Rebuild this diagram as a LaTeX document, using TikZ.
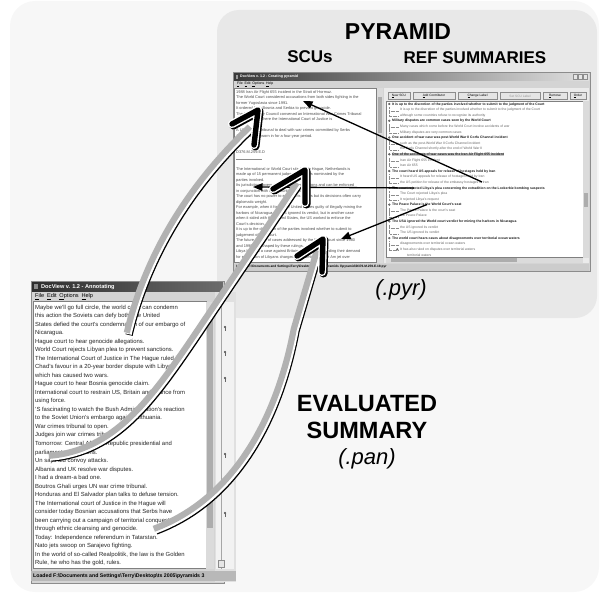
\documentclass[tikz,border=0pt]{standalone}
\usepackage{fontspec}
\setmainfont{Liberation Sans}
\usetikzlibrary{arrows.meta}
\tikzset{
  heading/.style={font=\fontsize{23}{27}\selectfont\bfseries, inner sep=0},
  subheading/.style={font=\fontsize{17}{20}\selectfont\bfseries, inner sep=0},
  ext/.style={font=\fontsize{22}{26}\selectfont\itshape, inner sep=0},
  winframe/.style={fill=black!17, draw=black!45, line width=0.4pt},
  pane/.style={fill=white, draw=black!50, line width=0.3pt},
  track/.style={fill=black!14},
  thumb/.style={fill=black!32},
  titletext/.style={anchor=west, inner sep=0, text=white},
  menutext/.style={anchor=west, inner sep=0},
  doctext/.style={anchor=base west, inner sep=0, font=\fontsize{5.9}{7}\selectfont, text=black!85},
  scutext/.style={anchor=base west, inner sep=0, font=\fontsize{3.9}{4.5}\selectfont, text=black!70},
  scu/.style={anchor=base west, inner sep=0, xshift=392pt, font=\fontsize{3.4}{4}\selectfont\bfseries, text=black!90},
  scuhl/.style={scu, fill=black!22},
  ctb/.style={anchor=base west, inner sep=0, xshift=400pt, font=\fontsize{3.4}{4}\selectfont, text=black!60},
  ctbb/.style={ctb, xshift=7pt},
  btnbox/.style={fill=black!10, draw=black!45, line width=0.3pt},
  btntext/.style={inner sep=0, font=\fontsize{3.2}{4}\selectfont},
  pointer/.style={line width=1.3pt, -{Triangle[length=9.5pt,width=7.5pt]}},
  bandshadow/.style={draw=black, line width=7.4pt, transform canvas={shift={(1pt,-1pt)}}},
  bandlight/.style={draw=white, line width=7.4pt},
  bandcore/.style={draw=black!30, line width=6.2pt, transform canvas={shift={(-1.2pt,1.2pt)}}},
  headshadow/.style={draw=black, line width=8.2pt, line cap=round, line join=round, transform canvas={shift={(1.4pt,-1.4pt)}}},
  headlight/.style={draw=white, line width=8.2pt, line cap=round, line join=round},
  headcore/.style={draw=black, line width=5.4pt, line cap=round, line join=round},
  pin/.style={fill=black!55, draw=black!70, line width=0.2pt}
}
\begin{document}
\begin{tikzpicture}[x=1pt,y=-1pt]
\useasboundingbox (0,0) rectangle (601,594);
\fill[black!3, rounded corners=25pt] (10,1) rectangle (599,592);
\fill[black!9, rounded corners=22pt] (217,10) rectangle (597,318);

\node[heading] (pyr) at (398,32) {PYRAMID};
\node[subheading] (scus) at (310,57) {SCUs};
\node[subheading] (refs) at (475,58) {REF SUMMARIES};
\node[ext] (pyrx) at (401,290) {(.pyr)};
\node[heading, align=center, font=\fontsize{23.5}{27.5}\selectfont\bfseries] (eval) at (367,432)
  {EVALUATED\\SUMMARY\\[-2pt]{\fontsize{22}{26}\selectfont\mdseries\itshape (.pan)}};

\draw[winframe] (233,72.5) rectangle (590,271);
\shade[left color=black!78, right color=black!12] (234,73.3) rectangle (589,80.3);
\fill[black!40] (235.5,74.8) rectangle (238,78.8);
\node[titletext, font=\fontsize{3.6}{4}\selectfont\bfseries] (ptitle) at (240,76.8) {DocView v. 1.2 - Creating pyramid};
\foreach \a [count=\i] in {573,578,583}
  \draw[btnbox] (\a,74.6) rectangle ({\a+4.5},79);
\node[menutext, font=\fontsize{3.5}{4}\selectfont] (pmenu) at (237,84.3)
  {\underline{F}ile\enspace \underline{E}dit\enspace \underline{O}ptions\enspace \underline{H}elp};
\draw[pane] (234,88) rectangle (376.5,262.5);
\fill[track] (377,88) rectangle (383,262.5);
\fill[thumb] (377.6,97) rectangle (382.4,133);
\fill[black!8] (384,88) rectangle (589,263);
\foreach \a/\b/\t [count=\i] in {388/410/{\underline{N}ew SCU}, 413/455/{\underline{A}dd Contributor},
  458/497/{\underline{C}hange Label}, 500/540/{\textcolor{black!40}{Set SCU Label}},
  543/567/{\underline{R}emove}, 570/586/{\underline{O}rder}}
  {\draw[btnbox] (\a,92.5) rectangle (\b,99.5);
   \node[btntext] (btn\i) at ({(\a+\b)/2},96) {\t};}
\draw[pane] (386,101) rectangle (583,257.5);
\fill[track] (583,101) rectangle (588.5,257.5);
\fill[thumb] (583.6,193) rectangle (588,207);
\fill[track] (386,257.5) rectangle (583,262.5);
\fill[thumb] (391,258.2) rectangle (517,262);
\fill[black!20] (234,263.5) rectangle (589,270.5);
\node[menutext, font=\fontsize{3.2}{4}\selectfont\bfseries] (pstat) at (236,267)
  {Loaded F:\textbackslash Documents and Settings\textbackslash Terry\textbackslash Desktop\textbackslash ts 2005\textbackslash pyramids 3\textbackslash pyramid\textbackslash D376.M.259.E.19.pyr};

\foreach \t [count=\i] in {
  {1988 Iran Air Flight 655 incident in the Strait of Hormuz.},
  {The World Court considered accusations from both sides fighting in the},
  {former Yugoslavia since 1991.},
  {It ordered both Bosnia and Serbia to prevent genocide.},
  {The UN Security Council convened an International War Crimes Tribunal},
  {in the Hague, where the International Court of Justice is},
  {},
  {A UN-created tribunal to deal with war crimes committed by Serbs},
  {Judges were sworn in for a four-year period.},
  {}, {},
  {D376.M.259.E.D},
  {}, {},
  {The International or World Court sits in The Hague, Netherlands is},
  {made up of 15 permanent judges and others nominated by the},
  {parties involved.},
  {Its jurisdiction covers disputes between nations and can be enforced},
  {in conjunction with the Security Council.},
  {The court has no power to enforce its orders but its decisions often carry},
  {diplomatic weight.},
  {For example, when it found the United States guilty of illegally mining the},
  {harbors of Nicaragua, the US ignored its verdict, but in another case},
  {when it sided with the United States, the US worked to enforce the},
  {Court's decision.},
  {It is up to the discretion of the parties involved whether to submit to},
  {judgement of the Court.},
  {The future course of cases addressed by the World Court since 1980},
  {and 1990 was shaped by these rulings.},
  {Libya brought a case against Britain and the US regarding their demand},
  {for extradition of Libyans charged with bombing a Pan Am jet over}}
  {\node[scutext] (p\i) at (236,{87.6+\i*5.5}) {\t};}
\draw[black!45, line width=0.4pt] (236,159) -- (262,159);

\foreach \k/\t [count=\i] in {
  scu/{It is up to the discretion of the parties involved whether to submit to the judgment of the Court},
  ctb/{It is up to the discretion of the parties involved whether to submit to the judgment of the Court},
  ctb/{although some countries refuse to recognize its authority},
  scu/{Military disputes are common cases seen by the World Court},
  ctb/{Many cases which come before the World Court involve accidents of war},
  ctb/{Military disputes are very common cases},
  scu/{One accident of war case was post-World War II Corfu Channel incident},
  ctb/{such as the post-World War II Corfu Channel incident},
  ctb/{the Corfu Channel shortly after the end of World War II},
  scuhl/{One of the accidents of war cases was the Iran Air Flight 655 incident},
  ctb/{Iran Air Flight 655 incident},
  ctb/{Iran Air 655},
  scu/{The court heard US appeals for release of hostages held by Iran},
  ctb/{It heard US appeals for release of hostages held by Iran},
  ctb/{the US petition for release of the embassy hostages in Iran},
  scu/{The court rejected Libya's plea concerning the extradition on the Lockerbie bombing suspects},
  ctb/{The Court rejected Libya's plea},
  ctb/{It rejected Libya's request},
  scu/{The Peace Palace is the World Court's seat},
  ctb/{The Peace Palace is the court's seat},
  ctb/{the Peace Palace},
  scu/{The USA ignored the World court verdict for mining the harbors in Nicaragua},
  ctb/{the US ignored its verdict},
  ctb/{The US ignored its verdict},
  scu/{The world court hears cases about disagreements over territorial ocean waters},
  ctb/{disagreements over territorial ocean waters},
  ctb/{It has also ruled on disputes over territorial waters},
  ctbb/{territorial waters}}
  {\node[\k] (r\i) at (0,{99.6+\i*5.59}) {\t};}
\foreach \i in {1,4,7,10,13,16,19,22,25}
  {\draw[black!45, line width=0.25pt, densely dotted] (389.3,{101.6+\i*5.59}) -- (389.3,{99.6+(\i+2)*5.59}) -- (398.5,{99.6+(\i+2)*5.59});
   \draw[black!45, line width=0.25pt, densely dotted] (389.3,{99.6+(\i+1)*5.59}) -- (398.5,{99.6+(\i+1)*5.59});
   \draw[pin] (389.3,{98.4+\i*5.59}) circle (1pt);}
\draw[pin] (397.3,{98.4+27*5.59}) circle (0.9pt);

\draw[winframe] (31,281) rectangle (224,583);
\fill[black!12] (215,292) rectangle (236,582);
\shade[left color=black!82, right color=black!58] (32,282) rectangle (223,291);
\fill[black!45] (34,284) rectangle (38,289);
\node[titletext, font=\fontsize{5.6}{6}\selectfont\bfseries] (dtitle) at (41,286.7) {DocView v. 1.2 - Annotating};
\node[menutext, font=\fontsize{5.6}{6}\selectfont] (dmenu) at (35,296.5)
  {\underline{F}ile\enspace \underline{E}dit\enspace \underline{O}ptions\enspace \underline{H}elp};
\draw[pane] (33,301.5) rectangle (206,568.5);
\fill[track] (206,301.5) rectangle (214,568.5);
\fill[thumb] (206.6,311) rectangle (213.4,528);
\fill[black!5] (216,301.5) rectangle (234,568.5);
\draw[black!35, line width=0.3pt] (221,301.5) -- (221,568.5);
\foreach \y [count=\i] in {327,352,378,454,513}
  {\draw[pin] (225,\y) circle (1.1pt); \draw[black!60, line width=0.3pt] (225,{\y+1}) -- (225,{\y+3.5});}
\draw[btnbox] (218,560) rectangle (224,567);
\begin{scope}
  \clip (31,571) rectangle (236,581);
  \fill[black!28] (31,571) rectangle (236,581);
  \node[menutext, font=\fontsize{5.2}{6}\selectfont\bfseries] (dstat) at (33,576)
    {Loaded F:\textbackslash Documents and Settings\textbackslash Terry\textbackslash Desktop\textbackslash ts 2005\textbackslash pyramids 3};
\end{scope}

\foreach \t [count=\i] in {
  {Maybe we'll go full circle, the world court can condemn},
  {this action the Soviets can defy both, the United},
  {States defied the court's condemnation of our embargo of},
  {Nicaragua.},
  {Hague court to hear genocide allegations.},
  {World Court rejects Libyan plea to prevent sanctions.},
  {The International Court of Justice in The Hague ruled in},
  {Chad's favour in a 20-year border dispute with Libya},
  {which has caused two wars.},
  {Hague court to hear Bosnia genocide claim.},
  {International court to restrain US, Britain and France from},
  {using force.},
  {'S fascinating to watch the Bush Administration's reaction},
  {to the Soviet Union's embargo against Lithuania.},
  {War crimes tribunal to open.},
  {Judges join war crimes tribunal.},
  {Tomorrow: Central African Republic presidential and},
  {parliamentary elections.},
  {Un says aid convoy attacks.},
  {Albania and UK resolve war disputes.},
  {I had a dream-a bad one.},
  {Boutros Ghali urges UN war crime tribunal.},
  {Honduras and El Salvador plan talks to defuse tension.},
  {The International court of Justice in the Hague will},
  {consider today Bosnian accusations that Serbs have},
  {been carrying out a campaign of territorial conquest},
  {through ethnic cleansing and genocide.},
  {Today: Independence referendum in Tatarstan.},
  {Nato jets swoop on Sarajevo fighting.},
  {In the world of so-called Realpolitik, the law is the Golden},
  {Rule, he who has the gold, rules.}}
  {\node[doctext] (d\i) at (35,{300.5+\i*8.53}) {\t};}

\coordinate (r1s) at (482,182);
\coordinate (p1t) at (303,101);
\coordinate (r2s) at (414,188);
\coordinate (p2t) at (253,187);
\coordinate (r3s) at (427,204.5);
\coordinate (p3t) at (341,239);
\draw[pointer] (r1s) -- (p1t);
\draw[pointer] (r2s) -- (p2t);
\draw[pointer] (r3s) -- (p3t);

\coordinate (ta) at (128,334);
\coordinate (ea) at (251,128);
\coordinate (ha) at (258,110);
\coordinate (tb) at (50,457);
\coordinate (eb) at (298,184);
\coordinate (hb) at (305,170);
\coordinate (tc) at (155,530);
\coordinate (ec) at (318,252);
\coordinate (hc) at (323,239);
\foreach \s in {bandshadow,bandlight,bandcore}
  {\draw[\s] (ta) .. controls (142,275) and (175,200) .. (ea);
   \draw[\s] (tb) .. controls (115,452) and (152,400) .. (193,340) -- (eb);
   \draw[\s] (tc) .. controls (235,500) and (278,420) .. (295,330) -- (ec);}
\foreach \s in {headshadow,headlight,headcore}
  {\draw[\s] (232,124) -- (ha) -- (254,145);
   \draw[\s] (273,189) -- (hb) -- (305,203);
   \draw[\s] (297,256) -- (hc) -- (322,272);}
\end{tikzpicture}
\end{document}
